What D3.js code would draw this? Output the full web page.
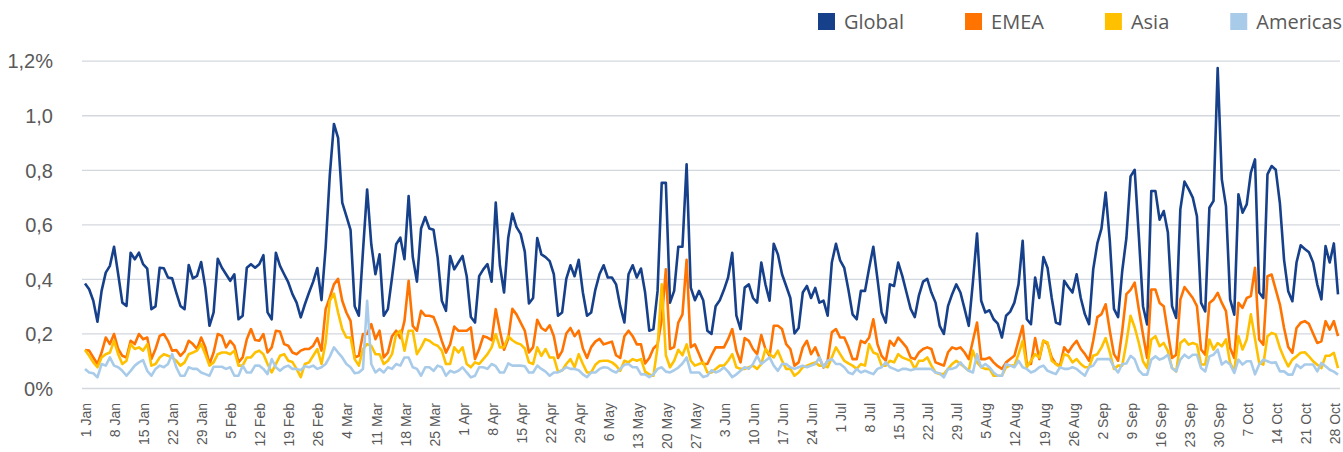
<!DOCTYPE html>
<html>
<head>
<meta charset="utf-8">
<script src="https://cdn.jsdelivr.net/npm/d3@7"></script>
<style>
  body { margin: 0; background: #fff; }
  svg { display: block; font-family: "Open Sans", sans-serif; }
</style>
</head>
<body>
<svg id="chart" width="1343" height="452"></svg>
<script>
// daily values, 1 Jan .. 29 Oct (in %)
const globalValues = [
  0.383,0.362,0.32,0.243,0.356,0.423,0.448,0.518,0.417,0.313,
  0.301,0.496,0.472,0.496,0.454,0.438,0.289,0.299,0.441,0.439,
  0.405,0.402,0.35,0.301,0.289,0.451,0.402,0.411,0.462,0.368,
  0.228,0.277,0.474,0.441,0.417,0.393,0.417,0.252,0.265,0.441,
  0.454,0.441,0.454,0.487,0.277,0.252,0.496,0.448,0.417,0.387,
  0.344,0.313,0.259,0.307,0.35,0.39,0.44,0.322,0.515,0.78,
  0.968,0.917,0.68,0.63,0.58,0.30,0.265,0.502,0.728,0.527,
  0.417,0.49,0.265,0.289,0.405,0.527,0.551,0.472,0.704,0.48,
  0.39,0.585,0.627,0.585,0.58,0.478,0.32,0.283,0.484,0.435,
  0.46,0.484,0.41,0.26,0.24,0.41,0.435,0.454,0.39,0.68,
  0.45,0.35,0.55,0.64,0.59,0.565,0.50,0.31,0.33,0.55,
  0.49,0.48,0.465,0.417,0.265,0.277,0.40,0.45,0.41,0.47,
  0.35,0.265,0.277,0.36,0.417,0.45,0.405,0.405,0.38,0.30,
  0.24,0.417,0.45,0.405,0.438,0.35,0.21,0.216,0.356,0.752,
  0.752,0.313,0.356,0.518,0.518,0.82,0.368,0.322,0.356,0.322,
  0.21,0.198,0.30,0.322,0.36,0.405,0.496,0.265,0.216,0.368,
  0.38,0.33,0.313,0.46,0.38,0.32,0.529,0.49,0.417,0.374,
  0.33,0.20,0.22,0.35,0.374,0.33,0.367,0.313,0.32,0.265,
  0.46,0.529,0.468,0.44,0.36,0.27,0.252,0.356,0.356,0.44,
  0.518,0.40,0.277,0.24,0.38,0.374,0.46,0.41,0.35,0.29,
  0.26,0.34,0.39,0.40,0.35,0.313,0.228,0.198,0.30,0.344,
  0.38,0.35,0.29,0.228,0.387,0.566,0.32,0.277,0.285,0.252,
  0.236,0.185,0.265,0.28,0.313,0.38,0.54,0.252,0.234,0.405,
  0.33,0.48,0.44,0.33,0.24,0.234,0.393,0.37,0.35,0.417,
  0.33,0.27,0.234,0.435,0.53,0.585,0.717,0.54,0.29,0.26,
  0.43,0.55,0.776,0.80,0.557,0.30,0.233,0.722,0.722,0.617,
  0.649,0.57,0.30,0.257,0.655,0.757,0.729,0.698,0.63,0.312,
  0.281,0.661,0.686,1.173,0.765,0.667,0.325,0.269,0.71,0.643,
  0.673,0.79,0.838,0.35,0.33,0.783,0.814,0.80,0.677,0.47,
  0.355,0.318,0.46,0.523,0.51,0.498,0.46,0.38,0.325,0.52,
  0.46,0.53,0.343
];

const emeaValues = [
  0.139,0.137,0.112,0.088,0.13,0.185,0.161,0.198,0.143,0.118,
  0.112,0.173,0.161,0.198,0.179,0.185,0.106,0.143,0.191,0.198,
  0.173,0.137,0.139,0.118,0.134,0.173,0.161,0.143,0.185,0.149,
  0.088,0.13,0.198,0.191,0.149,0.173,0.155,0.094,0.112,0.179,
  0.216,0.176,0.173,0.198,0.13,0.149,0.21,0.207,0.161,0.155,
  0.13,0.124,0.137,0.143,0.143,0.155,0.183,0.137,0.289,0.332,
  0.38,0.40,0.32,0.277,0.246,0.112,0.118,0.198,0.198,0.234,
  0.179,0.21,0.112,0.13,0.19,0.21,0.183,0.246,0.393,0.228,
  0.21,0.283,0.265,0.265,0.26,0.222,0.173,0.13,0.16,0.225,
  0.21,0.21,0.21,0.222,0.106,0.143,0.19,0.185,0.175,0.289,
  0.21,0.14,0.18,0.29,0.27,0.24,0.21,0.13,0.15,0.25,
  0.22,0.21,0.23,0.19,0.11,0.135,0.20,0.22,0.19,0.21,
  0.145,0.11,0.15,0.17,0.18,0.16,0.165,0.17,0.12,0.11,
  0.19,0.21,0.19,0.16,0.16,0.09,0.11,0.145,0.16,0.25,
  0.435,0.143,0.15,0.24,0.27,0.47,0.15,0.16,0.125,0.088,
  0.088,0.12,0.149,0.149,0.149,0.179,0.216,0.137,0.094,0.183,
  0.173,0.143,0.124,0.194,0.143,0.118,0.228,0.228,0.216,0.161,
  0.143,0.082,0.094,0.149,0.173,0.124,0.149,0.112,0.075,0.10,
  0.204,0.216,0.185,0.185,0.15,0.106,0.106,0.173,0.165,0.185,
  0.252,0.161,0.118,0.10,0.173,0.155,0.185,0.167,0.149,0.112,
  0.106,0.13,0.143,0.149,0.143,0.094,0.088,0.082,0.131,0.149,
  0.143,0.149,0.131,0.106,0.173,0.24,0.106,0.106,0.112,0.094,
  0.08,0.07,0.094,0.106,0.118,0.173,0.228,0.088,0.088,0.183,
  0.106,0.173,0.161,0.112,0.088,0.082,0.149,0.131,0.155,0.173,
  0.143,0.124,0.10,0.173,0.26,0.271,0.307,0.21,0.124,0.10,
  0.21,0.344,0.36,0.386,0.288,0.196,0.11,0.361,0.361,0.312,
  0.30,0.202,0.11,0.122,0.324,0.37,0.35,0.33,0.30,0.141,
  0.122,0.312,0.324,0.349,0.312,0.282,0.147,0.11,0.312,0.294,
  0.33,0.337,0.441,0.178,0.159,0.41,0.416,0.361,0.306,0.22,
  0.15,0.129,0.22,0.239,0.245,0.235,0.20,0.165,0.171,0.245,
  0.214,0.245,0.19
];

const asiaValues = [
  0.139,0.118,0.094,0.076,0.112,0.124,0.13,0.173,0.124,0.088,
  0.10,0.161,0.143,0.149,0.137,0.161,0.082,0.088,0.112,0.124,
  0.118,0.112,0.10,0.082,0.094,0.124,0.13,0.137,0.161,0.124,
  0.082,0.094,0.124,0.13,0.13,0.124,0.137,0.082,0.082,0.112,
  0.112,0.13,0.137,0.124,0.088,0.057,0.088,0.118,0.124,0.10,
  0.095,0.07,0.04,0.088,0.094,0.118,0.143,0.088,0.167,0.32,
  0.346,0.277,0.216,0.185,0.185,0.106,0.082,0.143,0.161,0.155,
  0.124,0.124,0.088,0.10,0.124,0.198,0.21,0.137,0.21,0.21,
  0.124,0.149,0.179,0.173,0.161,0.155,0.137,0.088,0.088,0.149,
  0.13,0.149,0.088,0.076,0.094,0.088,0.106,0.124,0.149,0.198,
  0.149,0.15,0.19,0.175,0.165,0.16,0.145,0.094,0.088,0.149,
  0.118,0.143,0.112,0.112,0.06,0.064,0.088,0.106,0.076,0.124,
  0.088,0.057,0.057,0.085,0.098,0.10,0.10,0.094,0.082,0.063,
  0.10,0.094,0.106,0.10,0.106,0.06,0.05,0.045,0.15,0.38,
  0.12,0.076,0.10,0.14,0.12,0.16,0.10,0.082,0.088,0.094,
  0.057,0.057,0.07,0.082,0.082,0.10,0.124,0.076,0.07,0.07,
  0.076,0.082,0.07,0.088,0.143,0.124,0.112,0.137,0.10,0.07,
  0.07,0.045,0.057,0.076,0.082,0.088,0.094,0.082,0.082,0.076,
  0.112,0.149,0.124,0.10,0.09,0.082,0.07,0.088,0.082,0.161,
  0.13,0.124,0.082,0.082,0.10,0.094,0.124,0.112,0.106,0.10,
  0.07,0.10,0.10,0.112,0.082,0.057,0.051,0.051,0.07,0.088,
  0.10,0.088,0.076,0.063,0.137,0.094,0.076,0.07,0.07,0.045,
  0.045,0.045,0.076,0.082,0.082,0.124,0.173,0.076,0.10,0.124,
  0.112,0.173,0.167,0.10,0.088,0.076,0.124,0.118,0.094,0.106,
  0.088,0.076,0.076,0.118,0.124,0.149,0.183,0.131,0.07,0.082,
  0.082,0.167,0.265,0.222,0.165,0.098,0.073,0.178,0.19,0.153,
  0.165,0.135,0.073,0.061,0.165,0.178,0.159,0.165,0.159,0.086,
  0.086,0.178,0.141,0.165,0.153,0.178,0.092,0.061,0.19,0.141,
  0.178,0.27,0.18,0.092,0.086,0.19,0.202,0.196,0.147,0.11,
  0.079,0.104,0.116,0.129,0.131,0.116,0.098,0.085,0.073,0.118,
  0.118,0.129,0.073
];

const americasValues = [
  0.07,0.057,0.054,0.039,0.088,0.082,0.112,0.082,0.076,0.063,
  0.045,0.063,0.082,0.094,0.102,0.063,0.045,0.07,0.082,0.076,
  0.088,0.124,0.076,0.045,0.045,0.076,0.07,0.07,0.057,0.051,
  0.045,0.078,0.078,0.078,0.07,0.076,0.045,0.045,0.082,0.057,
  0.057,0.082,0.082,0.07,0.051,0.106,0.076,0.063,0.076,0.082,
  0.07,0.07,0.065,0.08,0.076,0.082,0.07,0.076,0.088,0.115,
  0.149,0.13,0.112,0.088,0.076,0.054,0.057,0.07,0.32,0.088,
  0.057,0.07,0.057,0.076,0.07,0.088,0.082,0.112,0.112,0.076,
  0.07,0.045,0.076,0.076,0.063,0.082,0.076,0.045,0.063,0.057,
  0.063,0.076,0.057,0.039,0.045,0.076,0.076,0.07,0.088,0.08,
  0.057,0.057,0.09,0.082,0.082,0.082,0.08,0.057,0.057,0.082,
  0.07,0.06,0.045,0.057,0.057,0.065,0.076,0.07,0.07,0.065,
  0.05,0.04,0.057,0.057,0.07,0.076,0.074,0.063,0.057,0.07,
  0.085,0.088,0.076,0.076,0.05,0.05,0.04,0.05,0.07,0.076,
  0.06,0.057,0.065,0.075,0.09,0.112,0.057,0.057,0.057,0.04,
  0.045,0.065,0.057,0.063,0.076,0.06,0.04,0.05,0.063,0.076,
  0.07,0.088,0.118,0.088,0.10,0.112,0.082,0.063,0.088,0.088,
  0.076,0.07,0.076,0.082,0.076,0.082,0.088,0.112,0.076,0.10,
  0.106,0.088,0.088,0.076,0.057,0.051,0.07,0.057,0.063,0.057,
  0.051,0.07,0.076,0.094,0.076,0.07,0.063,0.07,0.07,0.065,
  0.07,0.07,0.07,0.07,0.07,0.057,0.054,0.039,0.07,0.07,
  0.076,0.094,0.076,0.063,0.057,0.124,0.076,0.088,0.076,0.057,
  0.045,0.045,0.088,0.082,0.076,0.10,0.076,0.07,0.057,0.063,
  0.076,0.082,0.063,0.057,0.051,0.076,0.07,0.07,0.076,0.07,
  0.057,0.045,0.076,0.082,0.106,0.106,0.106,0.106,0.076,0.057,
  0.088,0.09,0.118,0.105,0.065,0.049,0.049,0.104,0.116,0.104,
  0.11,0.122,0.073,0.061,0.104,0.122,0.11,0.122,0.122,0.073,
  0.061,0.116,0.122,0.141,0.086,0.098,0.086,0.055,0.104,0.086,
  0.098,0.098,0.05,0.086,0.104,0.098,0.092,0.094,0.061,0.061,
  0.049,0.049,0.086,0.073,0.086,0.086,0.086,0.061,0.092,0.08,
  0.067,0.06,0.049
];

const seriesNames = ["Global", "EMEA", "Asia", "Americas"];
const seriesColors = ["#17408b", "#ff7300", "#ffc000", "#a9cbea"];

// one label per week, starting on 1 Jan
const weekLabels = [
  "1 Jan","8 Jan","15 Jan","22 Jan","29 Jan","5 Feb","12 Feb","19 Feb","26 Feb",
  "4 Mar","11 Mar","18 Mar","25 Mar","1 Apr","8 Apr","15 Apr","22 Apr","29 Apr",
  "6 May","13 May","20 May","27 May","3 Jun","10 Jun","17 Jun","24 Jun","1 Jul",
  "8 Jul","15 Jul","22 Jul","29 Jul","5 Aug","12 Aug","19 Aug","26 Aug","2 Sep",
  "9 Sep","16 Sep","23 Sep","30 Sep","7 Oct","14 Oct","21 Oct","28 Oct"
];
const yTicks = [0, 0.2, 0.4, 0.6, 0.8, 1.0, 1.2];
const yTickLabels = ["0%", "0,2", "0,4", "0,6", "0,8", "1,0", "1,2%"];

const svg = d3.select("#chart");
const plotLeft = 82, plotRight = 1340;

const x = d3.scaleLinear()
  .domain([0, globalValues.length - 1])
  .range([85, 1338]);

const y = d3.scaleLinear()
  .domain([0, 1.2])
  .range([388, 60.7]);

// gridlines + y labels
const yAxis = svg.append("g")
  .attr("transform", `translate(${plotLeft},0)`)
  .call(d3.axisLeft(y)
    .tickValues(yTicks)
    .tickSize(-(plotRight - plotLeft))
    .tickPadding(29)
    .tickFormat((d, i) => yTickLabels[i]));
yAxis.select(".domain").remove();
yAxis.selectAll(".tick line")
  .attr("stroke", "#d3d8df")
  .attr("stroke-width", 1.3);
yAxis.selectAll(".tick text")
  .attr("fill", "#595959")
  .style("font-size", "20px")
  .attr("dy", "0.36em");

// x labels, rotated
const xAxis = svg.append("g")
  .attr("transform", "translate(0,403)")
  .call(d3.axisBottom(x)
    .tickValues(weekLabels.map((d, i) => i * 7))
    .tickSize(0)
    .tickFormat((d, i) => weekLabels[i]));
xAxis.select(".domain").remove();
xAxis.selectAll(".tick text")
  .attr("fill", "#595959")
  .style("font-size", "14px")
  .attr("text-anchor", "end")
  .attr("transform", "rotate(-90)")
  .attr("x", 0)
  .attr("y", 0)
  .attr("dy", "0.4em");

// lines
const allSeries = [globalValues, emeaValues, asiaValues, americasValues];
const line = d3.line()
  .x((d, i) => x(i))
  .y(d => y(d));

svg.append("g")
  .selectAll("path")
  .data(allSeries)
  .join("path")
  .attr("d", line)
  .attr("fill", "none")
  .attr("stroke", (d, i) => seriesColors[i])
  .attr("stroke-width", 2.6)
  .attr("stroke-linejoin", "round");

// legend
const legend = svg.append("g").attr("transform", "translate(818,13)");
let lx = 0;
seriesNames.forEach((name, i) => {
  const g = legend.append("g").attr("transform", `translate(${lx},0)`);
  g.append("rect")
    .attr("width", 17)
    .attr("height", 17)
    .attr("fill", seriesColors[i]);
  const t = g.append("text")
    .attr("x", 26)
    .attr("y", 9)
    .attr("dy", "0.36em")
    .attr("fill", "#595959")
    .style("font-size", "20px")
    .text(name);
  lx += 26 + t.node().getComputedTextLength() + 61;
});
</script>
</body>
</html>
